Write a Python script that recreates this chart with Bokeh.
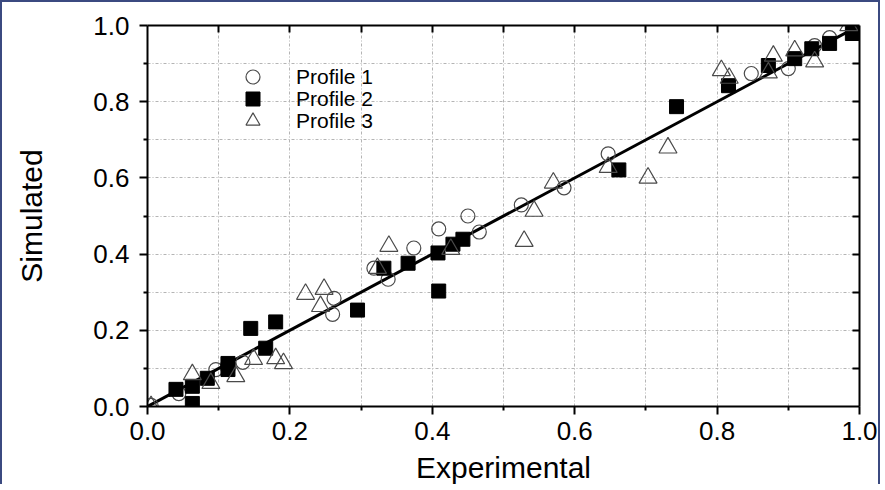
from bokeh.plotting import figure
from bokeh.models import (Range1d, LinearAxis, FixedTicker, Legend, LegendItem,
                          PrintfTickFormatter)
from bokeh.embed import file_html
from bokeh.resources import INLINE

# ---- data ----
p1_x = [0.005, 0.044, 0.096, 0.134, 0.26, 0.262, 0.318, 0.338, 0.374, 0.409,
        0.45, 0.466, 0.525, 0.585, 0.647, 0.848, 0.9, 0.937, 0.958]
p1_y = [0.003, 0.034, 0.097, 0.116, 0.242, 0.284, 0.363, 0.334, 0.416, 0.466,
        0.5, 0.458, 0.529, 0.574, 0.663, 0.874, 0.887, 0.947, 0.968]

p2_x = [0.04, 0.063, 0.063, 0.084, 0.113, 0.113, 0.145, 0.18, 0.166, 0.295,
        0.332, 0.366, 0.409, 0.408, 0.429, 0.443, 0.662, 0.743, 0.816, 0.872,
        0.909, 0.933, 0.958, 0.99]
p2_y = [0.045, 0.053, 0.008, 0.074, 0.113, 0.097, 0.205, 0.222, 0.153, 0.253,
        0.363, 0.376, 0.303, 0.403, 0.426, 0.439, 0.621, 0.787, 0.842, 0.895,
        0.913, 0.939, 0.953, 0.979]

p3_x = [0.005, 0.063, 0.089, 0.124, 0.149, 0.18, 0.191, 0.222, 0.248, 0.243,
        0.323, 0.339, 0.426, 0.529, 0.543, 0.57, 0.647, 0.703, 0.731, 0.806,
        0.817, 0.872, 0.879, 0.909, 0.937, 0.985]
p3_y = [0.0, 0.084, 0.061, 0.079, 0.124, 0.126, 0.113, 0.295, 0.308, 0.263,
        0.363, 0.421, 0.413, 0.434, 0.513, 0.587, 0.628, 0.6, 0.679, 0.882,
        0.862, 0.876, 0.92, 0.934, 0.905, 1.0]

fit_x = [0.0, 1.0]
fit_y = [0.0, 1.0]

series_labels = ["Profile 1", "Profile 2", "Profile 3"]

major = [0.0, 0.2, 0.4, 0.6, 0.8, 1.0]
minor = [0.1, 0.3, 0.5, 0.7, 0.9]
tenths = [0.1, 0.2, 0.3, 0.4, 0.5, 0.6, 0.7, 0.8, 0.9]

FONT = "Liberation Sans"

p = figure(width=880, height=484, output_backend="svg", toolbar_location=None,
           x_range=Range1d(0, 1), y_range=Range1d(0, 1),
           min_border_left=145, min_border_right=23, min_border_top=23,
           min_border_bottom=79,
           x_axis_label="Experimental", y_axis_label="Simulated")
p.styles = {"border-left": "2px solid #3b4a80",
            "border-top": "2px solid #3b4a80",
            "border-right": "2px solid #3b4a80"}
p.background_fill_color = "white"
p.border_fill_color = "white"
p.outline_line_color = None

# grid
for g in (p.xgrid, p.ygrid):
    g.ticker = FixedTicker(ticks=tenths)
    g.grid_line_color = "#b4b4b4"
    g.grid_line_dash = "3 2 1 2"
    g.grid_line_width = 1

# main axes
for ax in (p.xaxis[0], p.yaxis[0]):
    ax.ticker = FixedTicker(ticks=major, minor_ticks=minor)
    ax.formatter = PrintfTickFormatter(format="%.1f")
    ax.axis_line_width = 2
    ax.axis_line_color = "black"
    ax.major_tick_line_width = 2
    ax.minor_tick_line_width = 2
    ax.major_tick_out = 8
    ax.major_tick_in = 0
    ax.minor_tick_out = 4
    ax.minor_tick_in = 0
    ax.major_label_text_font = FONT
    ax.major_label_text_font_size = "26px"
    ax.major_label_text_color = "black"
    ax.axis_label_text_font = FONT
    ax.axis_label_text_font_size = "30px"
    ax.axis_label_text_font_style = "normal"
    ax.axis_label_text_color = "black"

p.xaxis[0].major_label_standoff = 7
p.xaxis[0].axis_label_standoff = 8
p.yaxis[0].major_label_standoff = 10
p.yaxis[0].axis_label_standoff = 42

# top and right axes (inward ticks, labels not drawn)
for side in ("above", "right"):
    ax = LinearAxis(ticker=FixedTicker(ticks=tenths, minor_ticks=[]))
    ax.axis_line_width = 2
    ax.axis_line_color = "black"
    ax.major_tick_line_width = 2
    ax.major_tick_in = 7
    ax.major_tick_out = 0
    ax.minor_tick_line_color = None
    ax.major_label_text_color = None
    ax.major_label_text_font_size = "1px"
    ax.major_label_standoff = 0
    p.add_layout(ax, side)

# fit line
p.line(fit_x, fit_y, line_color="black", line_width=3)

# data
r1 = p.scatter(p1_x, p1_y, marker="circle", size=14, fill_color=None,
               line_color="#4a4a4a", line_width=1.2)
r2 = p.scatter(p2_x, p2_y, marker="square", size=14, fill_color="black",
               line_color="black")
r3 = p.scatter(p3_x, p3_y, marker="triangle", size=18, fill_color=None,
               line_color="#4a4a4a", line_width=1.2)

# one legend box per row so that rows can sit closer than the glyph box
legend_rows = [(series_labels[0], r1, 312),
               (series_labels[1], r2, 290),
               (series_labels[2], r3, 268)]
for label, rend, yoff in legend_rows:
    lg = Legend(items=[LegendItem(label=label, renderers=[rend])],
                location=(88, yoff), orientation="vertical",
                glyph_width=35, glyph_height=35, label_height=20,
                spacing=0, padding=0, margin=0, label_standoff=26,
                label_text_font=FONT, label_text_font_size="21px",
                label_text_color="black",
                background_fill_alpha=0, border_line_color=None)
    p.add_layout(lg)

open("out.html", "w").write(file_html(p, INLINE))
